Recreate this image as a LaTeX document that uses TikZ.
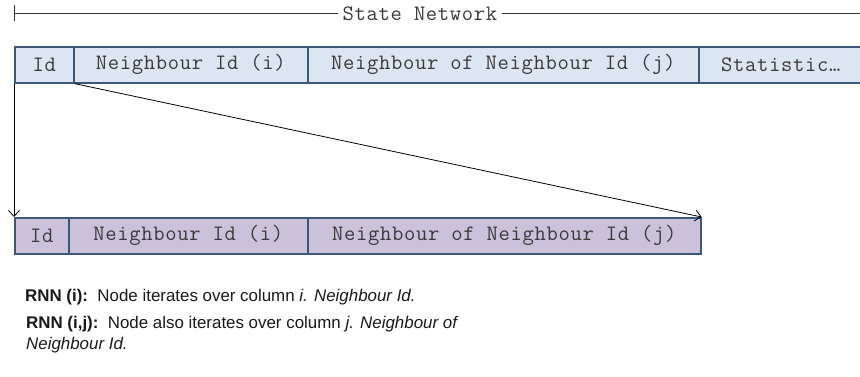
\documentclass[tikz,border=0pt]{standalone}
\usepackage{fontspec}
\setmainfont{Liberation Sans}
\newfontfamily\cellfont[LetterSpace=3]{Latin Modern Mono}
\usetikzlibrary{arrows.meta}
\definecolor{rowblue}{HTML}{DCE6F2}
\definecolor{rowlilac}{HTML}{CCC1DA}
\definecolor{celledge}{HTML}{3B5878}
\definecolor{celltext}{HTML}{3A3A3A}
\tikzset{
  monotext/.style={font=\cellfont\fontsize{22}{23}\selectfont, text=celltext},
  cell/.style={draw=celledge, line width=1.6pt, anchor=north west,
    minimum height=36pt, inner sep=0pt, monotext},
  topcell/.style={cell, fill=rowblue},
  lowcell/.style={cell, fill=rowlilac},
  link/.style={draw=black, line width=0.8pt,
    -{Straight Barb[length=6pt,width=11pt]}},
  note/.style={anchor=west, inner sep=0pt, text=black!90,
    font=\fontsize{16.9}{21}\selectfont, align=left}
}
\begin{document}
\begin{tikzpicture}[x=1pt,y=-1pt]
\useasboundingbox (0,0) rectangle (860,376);

% header bracket
\coordinate (tick) at (14,13);
\node[inner sep=0pt, monotext] (title) at (420,14) {State Network};
\draw[line width=0.7pt, black!80] (14,5) -- (14,21);
\draw[line width=0.7pt, black!80] (tick) -- ([xshift=-5pt]title.west |- tick);
\coordinate (right) at (860,13);
\draw[line width=0.7pt, black!80] ([xshift=5pt]title.east |- tick) -- (right);

% state network row
\node[topcell, minimum width=59pt]  (a1) at (14,46)  {Id};
\node[topcell, minimum width=234pt] (a2) at (73,46)  {Neighbour Id (i)};
\node[topcell, minimum width=391pt] (a3) at (307,46) {Neighbour of Neighbour Id (j)};
\node[topcell, minimum width=170pt] (a4) at (698,46) {\hspace*{-6pt}Statistic…};

% RNN row
\node[lowcell, minimum width=54pt]  (b1) at (14,217)  {Id};
\node[lowcell, minimum width=239pt] (b2) at (68,217)  {Neighbour Id (i)};
\node[lowcell, minimum width=393pt] (b3) at (307,217) {Neighbour of Neighbour Id (j)};

% connectors
\draw[link] (a1.south west) -- (b1.north west);
\draw[link] (a1.south east) -- (b3.north east);

% notes
\node[note] (n1) at (25,297)
  {\textbf{RNN (i):}\ \ Node iterates over column \textit{i. Neighbour Id.}};
\node[note, anchor=north west] (n2) at (26,316)
  {\textbf{RNN (i,j):}\ \ Node also iterates over column \textit{j. Neighbour of}\\
   \textit{Neighbour Id.}};
\end{tikzpicture}
\end{document}
